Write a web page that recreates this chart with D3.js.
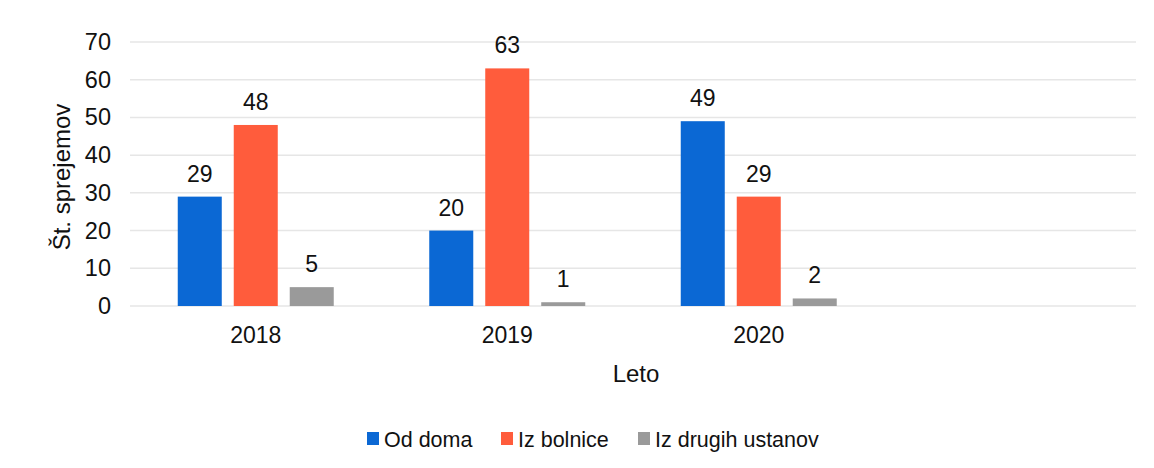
<!DOCTYPE html>
<html><head><meta charset="utf-8">
<script src="https://cdn.jsdelivr.net/npm/d3@7"></script>
<style>body{margin:0;background:#fff}svg{display:block}text{font-family:"Liberation Sans",Arial,sans-serif;fill:#111}</style>
</head><body><svg id="c" width="1154" height="468"></svg>
<script>
const categories = ["2018", "2019", "2020", ""];
const seriesNames = ["Od doma", "Iz bolnice", "Iz drugih ustanov"];
const odDoma = [29, 20, 49];
const izBolnice = [48, 63, 29];
const izDrugih = [5, 1, 2];
const yTicks = [0, 10, 20, 30, 40, 50, 60, 70];
const colors = ["#0b68d4", "#ff5c3c", "#9a9a9a"];

const series = [odDoma, izBolnice, izDrugih];
const svg = d3.select("#c");
const mLeft = 130, mRight = 1136, mTop = 42, mBottom = 306;

const x0 = d3.scaleBand().domain(categories).range([mLeft, mRight]).padding(0);
const x1 = d3.scaleBand().domain(seriesNames).range([0, 156]).paddingInner(0.214).paddingOuter(0);
const y = d3.scaleLinear().domain([0, 70]).range([mBottom, mTop]);

// gridlines
svg.append("g").selectAll("line").data(yTicks).join("line")
  .attr("x1", mLeft).attr("x2", mRight)
  .attr("y1", d => y(d)).attr("y2", d => y(d))
  .attr("stroke", "#e6e6e6").attr("stroke-width", 1.5);

// y axis labels
const yAxis = d3.axisLeft(y).tickValues(yTicks).tickSize(0).tickPadding(0);
const gy = svg.append("g").attr("transform", `translate(${mLeft - 19},0)`).call(yAxis);
gy.select(".domain").remove();
gy.selectAll("text").style("font-size", "23.5px").attr("font-family", "Liberation Sans, Arial, sans-serif").attr("fill", "#111");

// x axis labels
const xAxis = d3.axisBottom(x0).tickSize(0).tickPadding(0);
const gx = svg.append("g").attr("transform", `translate(0,${mBottom + 21})`).call(xAxis);
gx.select(".domain").remove();
gx.selectAll("text").style("font-size", "23px").attr("font-family", "Liberation Sans, Arial, sans-serif").attr("fill", "#111");

// bars
categories.slice(0, 3).forEach((cat, ci) => {
  const gx0 = x0(cat) + (x0.bandwidth() - 156) / 2;
  const g = svg.append("g").attr("transform", `translate(${gx0},0)`);
  seriesNames.forEach((s, si) => {
    const v = series[si][ci];
    g.append("rect").attr("x", x1(s)).attr("width", x1.bandwidth())
      .attr("y", y(v)).attr("height", y(0) - y(v)).attr("fill", colors[si]);
    g.append("text").attr("x", x1(s) + x1.bandwidth() / 2).attr("y", y(v) - 15)
      .attr("text-anchor", "middle").style("font-size", "23px").text(v);
  });
});

// axis titles
svg.append("text").attr("transform", "translate(70,177) rotate(-90)")
  .attr("text-anchor", "middle").style("font-size", "24px").text("Št. sprejemov");
svg.append("text").attr("x", 636).attr("y", 382)
  .attr("text-anchor", "middle").style("font-size", "24px").text("Leto");

// legend
const legX = [367, 501, 638];
seriesNames.forEach((s, i) => {
  svg.append("rect").attr("x", legX[i]).attr("y", 432).attr("width", 12).attr("height", 13).attr("fill", colors[i]);
  svg.append("text").attr("x", legX[i] + 17).attr("y", 447).style("font-size", "21.5px").text(s);
});
</script></body></html>
